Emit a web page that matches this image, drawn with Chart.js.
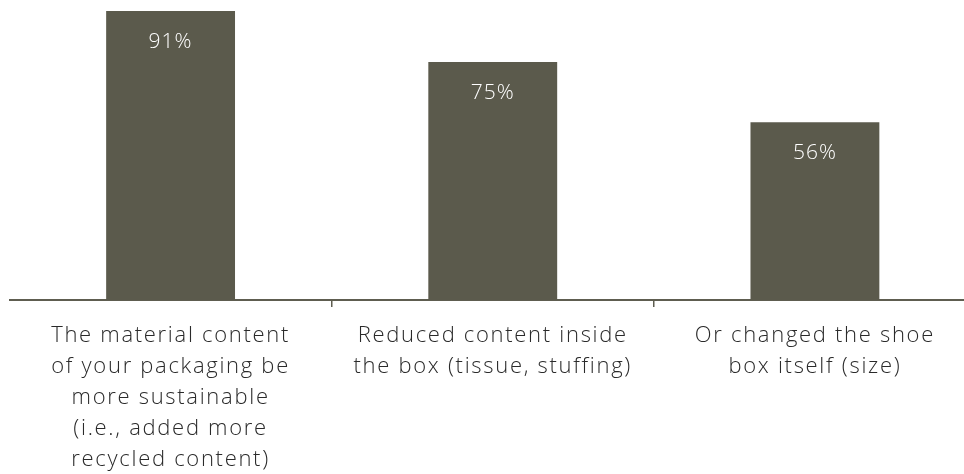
<!DOCTYPE html>
<html>
<head>
<meta charset="utf-8">
<script src="https://cdn.jsdelivr.net/npm/chart.js@4/dist/chart.umd.min.js"></script>
<style>
  html, body { margin: 0; padding: 0; background: #fff; overflow: hidden; }
  #wrap { width: 980px; height: 474px; }
</style>
</head>
<body>
<div id="wrap"><canvas id="chart" width="980" height="474"></canvas></div>
<script>
const categories = [
    ['The material content', 'of your packaging be', 'more sustainable', '(i.e., added more', 'recycled content)'],
    ['Reduced content inside', 'the box (tissue, stuffing)'],
    ['Or changed the shoe', 'box itself (size)']
];
const values = [91, 75, 56];
const valueLabels = ['91%', '75%', '56%'];

const barColor = '#5b5a4c';
const axisColor = '#5e5d50';

// the original font is wider, so spread the letters a bit
const spacing = {
    id: 'spacing',
    beforeDraw(chart) {
        chart.ctx.letterSpacing = '1.7px';
    }
};

// white percentage labels near top of each bar
const barLabels = {
    id: 'barLabels',
    afterDatasetsDraw(chart) {
        const ctx = chart.ctx;
        const meta = chart.getDatasetMeta(0);
        ctx.save();
        ctx.letterSpacing = '1px';
        ctx.fillStyle = '#ffffff';
        ctx.font = '300 21px "Open Sans", Lato, sans-serif';
        ctx.textAlign = 'center';
        ctx.textBaseline = 'middle';
        meta.data.forEach((bar, i) => {
            ctx.fillText(valueLabels[i], bar.x, bar.y + 31);
        });
        ctx.restore();
    }
};

new Chart(document.getElementById('chart').getContext('2d'), {
    type: 'bar',
    data: {
        labels: categories,
        datasets: [{
            data: values,
            backgroundColor: barColor,
            barPercentage: 0.4,
            categoryPercentage: 1
        }]
    },
    options: {
        responsive: false,
        animation: false,
        layout: { padding: { left: 9.5, right: 4, top: 0, bottom: 0 } },
        plugins: {
            legend: { display: false },
            tooltip: { enabled: false }
        },
        scales: {
            x: {
                offset: true,
                grid: {
                    offset: true,
                    drawOnChartArea: false,
                    drawTicks: true,
                    tickLength: 7,
                    lineWidth: 1.5,
                    color: ctx => (ctx.index === 0 || ctx.index === categories.length) ? 'rgba(0,0,0,0)' : axisColor
                },
                border: { display: true, color: axisColor, width: 2 },
                ticks: {
                    color: '#2a2a2a',
                    padding: 13,
                    maxRotation: 0,
                    autoSkip: false,
                    font: { family: '"Open Sans", Lato, sans-serif', size: 22, weight: '300', lineHeight: 1.41 }
                },
                afterFit(scale) { scale.height = 174; }
            },
            y: {
                display: false,
                min: 0,
                max: 94.5
            }
        }
    },
    plugins: [spacing, barLabels]
});
</script>
</body>
</html>
